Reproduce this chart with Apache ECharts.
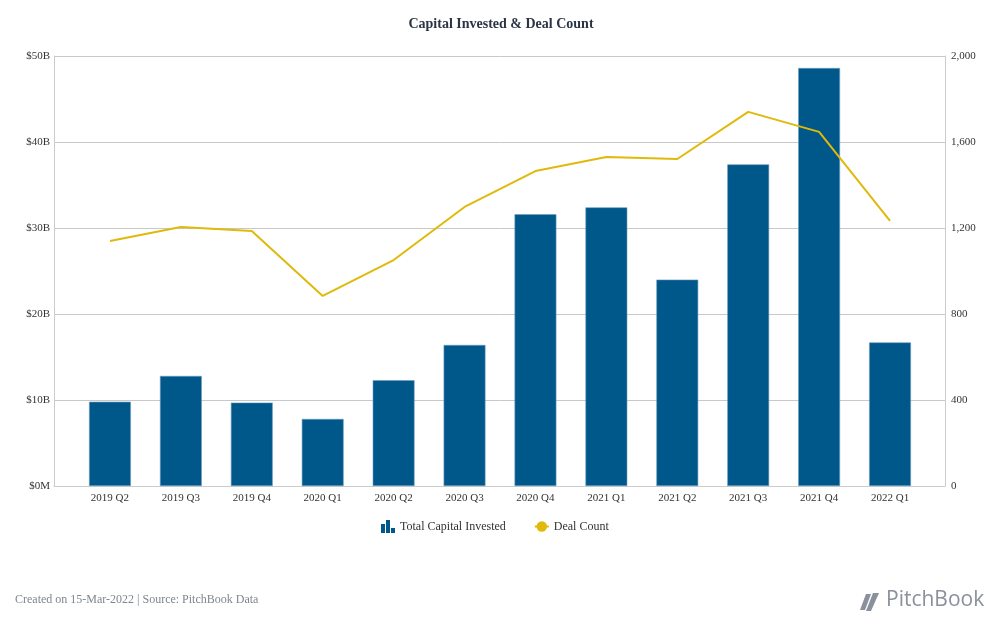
<!DOCTYPE html>
<html>
<head>
<meta charset="utf-8">
<script src="https://cdn.jsdelivr.net/npm/echarts@6/dist/echarts.min.js"></script>
<style>html,body{margin:0;padding:0;background:#fff}#c{width:1002px;height:620px}</style>
</head>
<body>
<div id="c"></div>
<script>
var categories = ['2019 Q2','2019 Q3','2019 Q4','2020 Q1','2020 Q2','2020 Q3','2020 Q4','2021 Q1','2021 Q2','2021 Q3','2021 Q4','2022 Q1'];
var capitalInvested = [9.8, 12.8, 9.7, 7.8, 12.3, 16.4, 31.6, 32.4, 24.0, 37.4, 48.6, 16.7];
var dealCount = [1140, 1205, 1186, 884, 1051, 1298, 1465, 1530, 1521, 1740, 1647, 1233];

var serif = '"Liberation Serif", "DejaVu Serif", serif';
var chart = echarts.init(document.getElementById('c'));
chart.setOption({
  backgroundColor: '#fff',
  animation: false,
  title: {
    text: 'Capital Invested & Deal Count',
    left: 'center', top: 12,
    textStyle: {fontFamily: serif, fontSize: 14, fontWeight: 'bold', color: '#2a3444'}
  },
  legend: {
    top: 515, left: 376,
    itemGap: 28, itemWidth: 14, itemHeight: 13,
    textStyle: {fontFamily: serif, fontSize: 12, color: '#333'},
    data: [
      {name: 'Total Capital Invested', icon: 'path://M0,4h4v9h-4z M5,0h4v13h-4z M10,8h4v5h-4z',
        itemStyle: {color: '#00578a', borderWidth: 0}},
      {name: 'Deal Count'}
    ]
  },
  grid: [
    {left: 54, right: 57, top: 56, bottom: 134},
    {left: 74.5, right: 76.5, top: 56, bottom: 134}
  ],
  xAxis: [
    {
      type: 'category', data: categories, gridIndex: 0,
      axisLine: {lineStyle: {color: '#ccc'}},
      axisTick: {show: false},
      axisLabel: {show: false}
    },
    {
      type: 'category', data: categories, gridIndex: 1,
      axisLine: {show: false},
      axisTick: {show: false},
      axisLabel: {fontFamily: serif, fontSize: 11, color: '#333', margin: 7}
    }
  ],
  yAxis: [
    {
      type: 'value', min: 0, max: 50, interval: 10, gridIndex: 0,
      axisLine: {show: true, lineStyle: {color: '#ccc'}},
      axisTick: {show: false},
      splitLine: {lineStyle: {color: '#c8c8c8'}},
      axisLabel: {fontFamily: serif, fontSize: 11, color: '#333', margin: 4,
        formatter: function (v) { return v === 0 ? '$0M' : '$' + v + 'B'; }}
    },
    {
      type: 'value', min: 0, max: 2000, interval: 400, gridIndex: 0,
      axisLine: {show: true, lineStyle: {color: '#ccc'}},
      axisTick: {show: false},
      splitLine: {show: false},
      axisLabel: {fontFamily: serif, fontSize: 11, color: '#333', margin: 6,
        formatter: function (v) { return v.toLocaleString('en-US'); }}
    },
    {
      type: 'value', min: 0, max: 50, interval: 10, gridIndex: 1, show: false
    },
    {
      type: 'value', min: 0, max: 2000, interval: 400, gridIndex: 1, show: false, position: 'right'
    }
  ],
  series: [
    {
      name: 'Total Capital Invested', type: 'bar', data: capitalInvested,
      xAxisIndex: 1, yAxisIndex: 2, barWidth: '59%',
      itemStyle: {color: '#00578a', borderColor: '#6b9cc0', borderWidth: 0.6}
    },
    {
      name: 'Deal Count', type: 'line', data: dealCount, xAxisIndex: 1, yAxisIndex: 3,
      symbol: 'circle', symbolSize: 8, showSymbol: false,
      lineStyle: {color: '#e0b90b', width: 2},
      itemStyle: {color: '#e0b90b'}
    }
  ],
  graphic: [
    {type: 'text', left: 15, top: 594,
      style: {text: 'Created on 15-Mar-2022 | Source: PitchBook Data', fontFamily: serif, fontSize: 12, fill: '#7f8590'}},
    {type: 'polygon',
      shape: {points: [[866,594],[871,594],[865,610],[860,610]]},
      style: {fill: '#8a919c'}},
    {type: 'polygon',
      shape: {points: [[873,593],[879,593],[871,611],[866,611]]},
      style: {fill: '#8a919c'}},
    {type: 'text', left: 886, top: 590,
      style: {text: 'PitchBook', fontFamily: '"Open Sans", "Noto Sans", sans-serif', fontSize: 21, fill: '#8a919c'}}
  ]
});
</script>
</body>
</html>
